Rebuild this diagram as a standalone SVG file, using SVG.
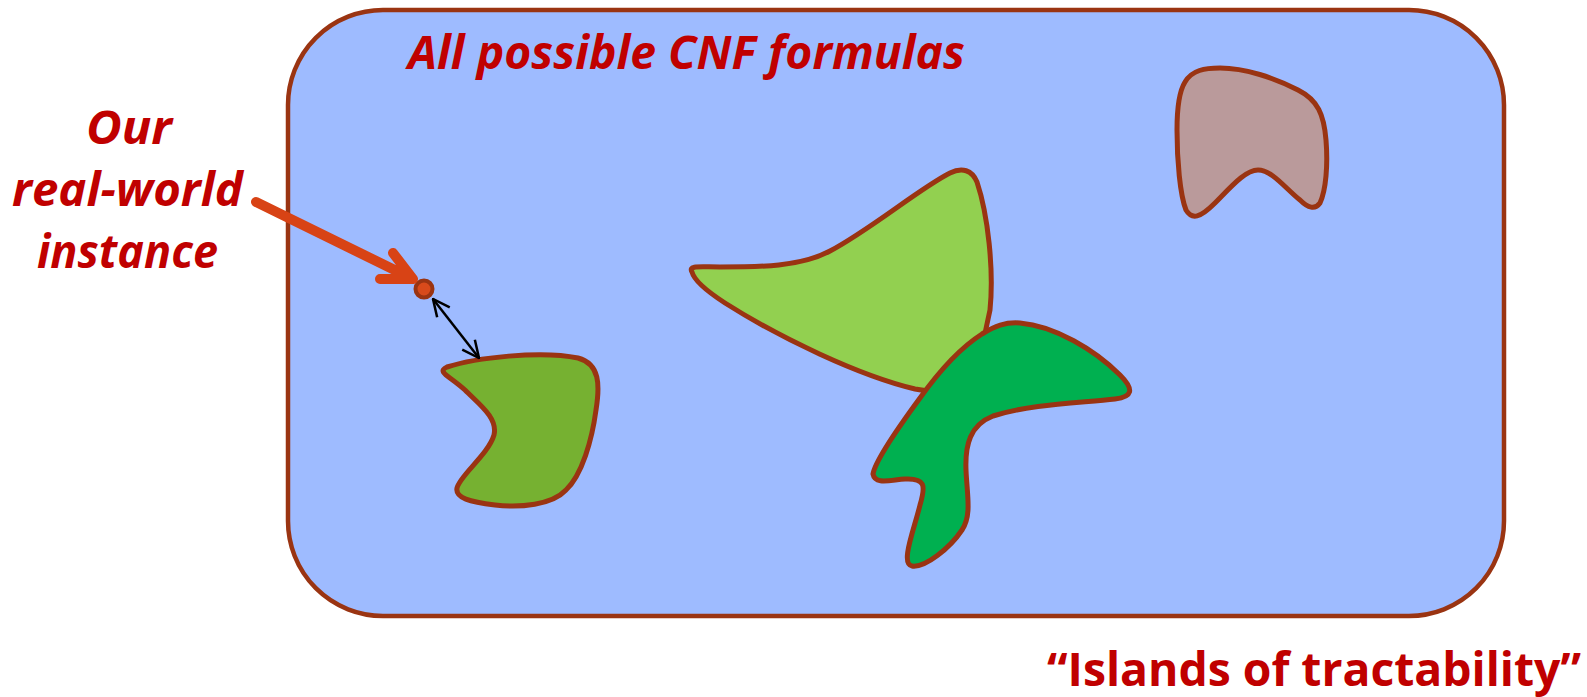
<svg xmlns="http://www.w3.org/2000/svg" width="1587" height="697" viewBox="0 0 1587 697">
<style>
.lbl{font-family:"Open Sans","Noto Sans","Liberation Sans",sans-serif;font-weight:bold;fill:#C00000;font-size:47px}
.it{font-style:italic}
.isl{stroke:#9A3412;stroke-width:5;stroke-linejoin:round}
</style>
<defs>
<marker id="blk" viewBox="0 0 20 20" refX="19" refY="10" markerWidth="20" markerHeight="20" markerUnits="userSpaceOnUse" orient="auto-start-reverse">
<path d="M2,2 L19,10 L2,18" fill="none" stroke="#000" stroke-width="2.5"/>
</marker>
</defs>
<g id="universe">
<rect x="288" y="10" width="1216" height="606" rx="95" ry="95" fill="#9EBBFF" stroke="#9A3412" stroke-width="4.5"/>
<text class="lbl it" x="408" y="69" textLength="557" lengthAdjust="spacingAndGlyphs">All possible CNF formulas</text>
</g>
<g id="island-olive">
<path class="isl" fill="#76B131" d="M 447,367 C 475,358 540,350 578,358 C 600,364 600,385 596,410 C 592,440 582,475 566,490 C 552,505 520,508 495,505 C 470,502 455,498 457,488 C 460,475 488,455 494,435 C 498,418 480,405 465,390 C 450,376 436,372 447,367 Z"/>
</g>
<g id="island-lightgreen">
<path class="isl" fill="#92D050" d="M 692,272 C 688,265 700,267 720,267 C 760,267 800,267 830,251 C 870,230 920,188 950,173 C 962,167 972,170 977,182 C 988,215 994,270 990,310 L 975,380 C 960,392 940,394 915,389 C 860,376 780,338 725,303 C 705,290 694,280 692,272 Z"/>
</g>
<g id="island-darkgreen">
<path class="isl" fill="#00B050" d="M 982,334 C 995,326 1005,322 1020,323 C 1055,326 1095,350 1120,375 C 1135,390 1132,397 1115,399 C 1080,403 1030,404 993,416 C 970,425 965,445 966,470 C 967,495 972,515 962,530 C 950,548 925,568 912,566 C 900,564 914,530 920,505 C 926,485 925,478 905,479 C 890,480 875,485 873,474 C 875,462 895,432 920,398 C 940,370 960,348 982,334 Z"/>
</g>
<g id="island-mauve">
<path class="isl" fill="#BA9A9B" d="M 1185,82 C 1192,70 1205,68 1220,68 C 1245,68 1275,78 1298,90 C 1318,100 1324,115 1326,140 C 1328,165 1326,190 1320,203 C 1315,210 1308,208 1300,200 C 1285,188 1272,170 1258,170 C 1245,170 1230,188 1215,203 C 1200,218 1192,220 1186,210 C 1180,195 1177,160 1177,130 C 1177,105 1180,90 1185,82 Z"/>
</g>
<g id="instance">
<text class="lbl it" x="86" y="144" textLength="86" lengthAdjust="spacingAndGlyphs">Our</text>
<text class="lbl it" x="12" y="206" textLength="231" lengthAdjust="spacingAndGlyphs">real-world</text>
<text class="lbl it" x="37" y="268" textLength="181" lengthAdjust="spacingAndGlyphs">instance</text>
<circle cx="424" cy="289" r="8.5" fill="#D84A1B" stroke="#9A3412" stroke-width="4"/>
</g>
<g id="islands-label">
<text class="lbl" x="1047" y="686" textLength="534" lengthAdjust="spacingAndGlyphs">“Islands of tractability”</text>
</g>
<g id="connectors">
<path d="M 256,202 L 413,279 M 380,279 L 413,279 L 393,253" fill="none" stroke="#D84315" stroke-width="10" stroke-linecap="round" stroke-linejoin="round"/>
<line x1="433" y1="299" x2="479" y2="358" stroke="#000" stroke-width="2.5" marker-start="url(#blk)" marker-end="url(#blk)"/>
</g>
</svg>
